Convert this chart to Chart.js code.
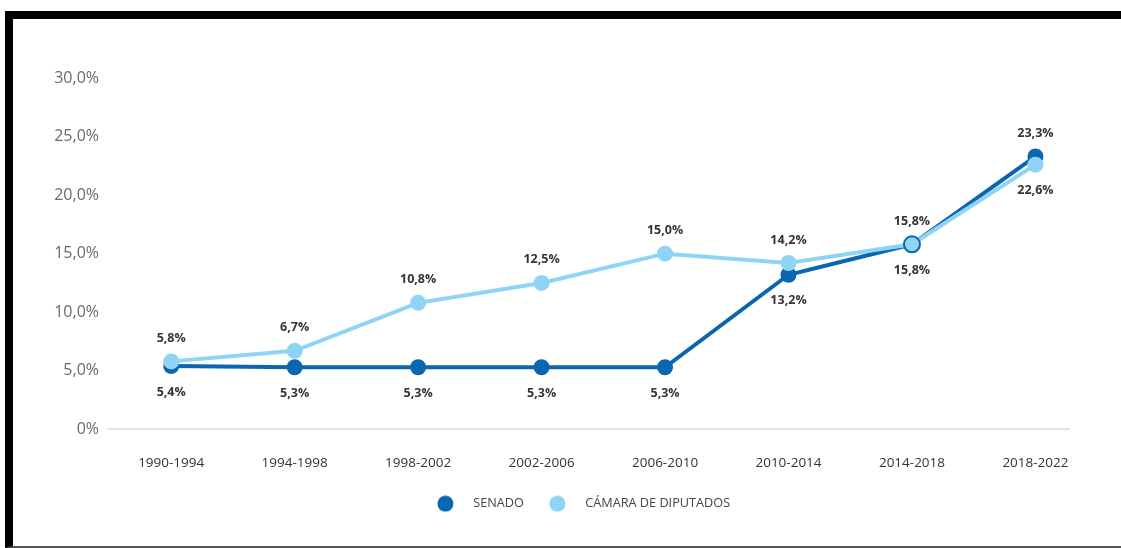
<!DOCTYPE html>
<html>
    <head>
        <meta charset="utf-8">
        <script src="https://cdn.jsdelivr.net/npm/chart.js@4/dist/chart.umd.min.js"></script>
        <style>
            body { margin: 0; background: #fff; }
            #frame {
                position: absolute; left: 5px; top: 11px;
                width: 1116px; height: 537px; box-sizing: border-box;
                border-top: 8px solid #000; border-left: 8px solid #000;
                border-bottom: 2px solid #555;
            }
            #frame canvas { display: block; }
        </style>
    </head>
    <body>
        <div id="frame"><canvas id="chart" width="1108" height="527"></canvas></div>
        <script>
        const periodos = ['1990-1994', '1994-1998', '1998-2002', '2002-2006', '2006-2010', '2010-2014', '2014-2018', '2018-2022'];
        const senado = [5.4, 5.3, 5.3, 5.3, 5.3, 13.2, 15.8, 23.3];
        const camara = [5.8, 6.7, 10.8, 12.5, 15.0, 14.2, 15.8, 22.6];
        const yTicks = [0, 5, 10, 15, 20, 25, 30];

        const azul = '#0b66b2';
        const celeste = '#8fd4f5';
        const fuente = "'Open Sans', sans-serif";

        const fmt = v => v.toFixed(1).replace('.', ',') + '%';
        const puntos = arr => arr.map((v, i) => ({ x: i, y: v }));

        // circle on the left of a wide image, so the legend text sits further away
        function legendDot(color) {
            const c = document.createElement('canvas');
            c.width = 30; c.height = 17;
            const g = c.getContext('2d');
            g.fillStyle = color;
            g.beginPath();
            g.arc(8.5, 8.5, 8, 0, Math.PI * 2);
            g.fill();
            return c;
        }

        const etiquetas = {
            id: 'etiquetas',
            beforeDraw(chart) {
                // nudge the legend a little to the left, like the original
                if (!chart.legend._movido) {
                    chart.legend.left -= 10;
                    chart.legend.adjustHitBoxes();
                    chart.legend._movido = true;
                }
            },
            afterDatasetsDraw(chart) {
                const ctx = chart.ctx;
                ctx.save();
                ctx.font = "bold 12.5px " + fuente;
                ctx.fillStyle = '#3a3230';
                ctx.textAlign = 'center';
                ctx.textBaseline = 'middle';
                chart.data.datasets.forEach((ds, di) => {
                    chart.getDatasetMeta(di).data.forEach((pt, i) => {
                        const senadoArriba = senado[i] > camara[i];
                        const arriba = di === 0 ? senadoArriba : !senadoArriba;
                        ctx.fillText(fmt(ds.data[i].y), pt.x, arriba ? pt.y - 23 : pt.y + 26);
                    });
                });
                ctx.restore();
            }
        };

        new Chart(document.getElementById('chart'), {
            type: 'line',
            data: {
                datasets: [{
                    label: 'SENADO',
                    data: puntos(senado),
                    borderColor: azul,
                    backgroundColor: azul,
                    pointBackgroundColor: azul,
                    pointBorderWidth: 0,
                    pointRadius: 8,
                    borderWidth: 4,
                    order: 1
                }, {
                    label: 'CÁMARA DE DIPUTADOS',
                    data: puntos(camara),
                    borderColor: celeste,
                    backgroundColor: celeste,
                    pointBackgroundColor: celeste,
                    pointBorderColor: c => senado[c.dataIndex] === camara[c.dataIndex] ? azul : celeste,
                    pointBorderWidth: c => senado[c.dataIndex] === camara[c.dataIndex] ? 2 : 0,
                    pointRadius: 8,
                    borderWidth: 4,
                    order: 0
                }]
            },
            options: {
                responsive: false,
                animation: false,
                layout: { padding: { left: 0, right: 51, top: 59, bottom: 26 } },
                scales: {
                    x: {
                        type: 'linear',
                        min: -0.52, max: 7.28,
                        afterBuildTicks: s => { s.ticks = periodos.map((p, i) => ({ value: i })); },
                        grid: { display: false },
                        border: { display: false },
                        ticks: {
                            color: '#333',
                            font: { family: fuente, size: 13.5 },
                            padding: 18,
                            maxRotation: 0,
                            autoSkip: false,
                            callback: v => periodos[v]
                        },
                        afterFit: s => { s.height = 43; }
                    },
                    y: {
                        min: 0, max: 30,
                        afterBuildTicks: s => { s.ticks = yTicks.map(v => ({ value: v })); },
                        grid: {
                            drawTicks: false,
                            lineWidth: 2,
                            color: c => c.tick && c.tick.value === 0 ? '#e2e2e2' : 'rgba(0,0,0,0)'
                        },
                        border: { display: false },
                        ticks: {
                            color: '#6a6a6a',
                            padding: 8,
                            font: { family: fuente, size: 16 },
                            callback: v => v === 0 ? '0%' : fmt(v)
                        },
                        afterFit: s => { s.width = 94; }
                    }
                },
                plugins: {
                    tooltip: { enabled: false },
                    legend: {
                        position: 'bottom',
                        fullSize: false,
                        labels: {
                            usePointStyle: true,
                            pointStyleWidth: 30,
                            padding: 25,
                            color: '#444',
                            font: { family: fuente, size: 12.7 },
                            sort: (a, b) => a.datasetIndex - b.datasetIndex,
                            generateLabels: chart => Chart.defaults.plugins.legend.labels.generateLabels(chart).map(it => {
                                it.pointStyle = legendDot(it.fillStyle);
                                it.lineWidth = 0;
                                return it;
                            })
                        }
                    }
                }
            },
            plugins: [etiquetas]
        });
        </script>
    </body>
</html>
